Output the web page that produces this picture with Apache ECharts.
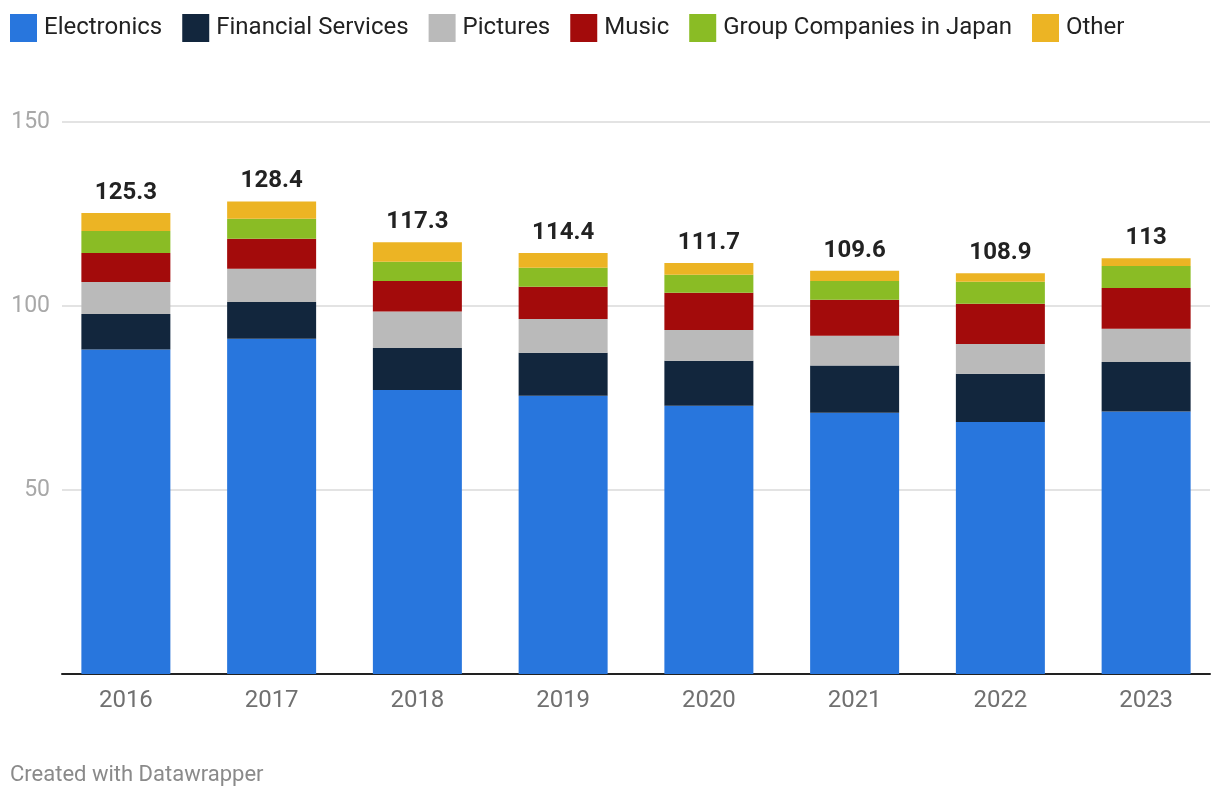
<!DOCTYPE html>
<html>
<head>
<meta charset="utf-8">
<style>
  html, body { margin: 0; padding: 0; background: #ffffff; }
  #chart { width: 1220px; height: 798px; }
</style>
<script src="https://cdn.jsdelivr.net/npm/echarts@6/dist/echarts.min.js"></script>
</head>
<body>
<div id="chart"></div>
<script>
const years = ['2016', '2017', '2018', '2019', '2020', '2021', '2022', '2023'];
const electronics = [88.2, 91.1, 77.2, 75.6, 72.9, 71.0, 68.5, 71.3];
const financial   = [9.6, 10.0, 11.4, 11.7, 12.2, 12.8, 13.1, 13.5];
const pictures    = [8.7, 9.0, 9.9, 9.2, 8.4, 8.1, 8.1, 9.0];
const music       = [7.9, 8.2, 8.3, 8.7, 10.1, 9.8, 10.9, 11.1];
const groupJapan  = [6.0, 5.4, 5.2, 5.2, 4.9, 5.1, 6.0, 6.0];
const other       = [4.9, 4.7, 5.3, 4.0, 3.2, 2.8, 2.3, 2.1];
const yTicks = [0, 50, 100, 150];

const seriesDefs = [
  { name: 'Electronics', data: electronics, color: '#2876dd' },
  { name: 'Financial Services', data: financial, color: '#12263d' },
  { name: 'Pictures', data: pictures, color: '#bababa' },
  { name: 'Music', data: music, color: '#a30b0b' },
  { name: 'Group Companies in Japan', data: groupJapan, color: '#8abc25' },
  { name: 'Other', data: other, color: '#ecb424' }
];

const totals = years.map((_, i) =>
  parseFloat(seriesDefs.reduce((s, d) => s + d.data[i], 0).toFixed(1)));

const font = 'Roboto, "Noto Sans", sans-serif';
const chart = echarts.init(document.getElementById('chart'), null, { renderer: 'canvas' });

const series = seriesDefs.map((d, idx) => {
  const s = {
    name: d.name,
    type: 'bar',
    stack: 'total',
    xAxisIndex: 0,
    yAxisIndex: 0,
    barWidth: 89,
    data: d.data,
    itemStyle: { color: d.color },
    emphasis: { disabled: true }
  };
  if (idx === seriesDefs.length - 1) {
    s.label = {
      show: true,
      position: 'top',
      distance: 8,
      fontFamily: font,
      fontSize: 24,
      fontWeight: 'bold',
      color: '#222222',
      formatter: p => String(totals[p.dataIndex])
    };
  }
  return s;
});

chart.setOption({
  animation: false,
  color: seriesDefs.map(d => d.color),
  textStyle: { fontFamily: font },
  title: {
    text: 'Created with Datawrapper',
    left: 10,
    top: 764,
    padding: 0,
    textStyle: { fontFamily: font, fontSize: 22, fontWeight: 'normal', color: '#8a8a8a' }
  },
  legend: {
    left: 10,
    top: 14,
    padding: 0,
    itemWidth: 27,
    itemHeight: 28,
    itemGap: 20,
    icon: 'rect',
    selectedMode: false,
    textStyle: { fontFamily: font, fontSize: 24, color: '#222222', padding: [0, 0, 0, 2] },
    data: seriesDefs.map(d => d.name)
  },
  grid: [
    { left: 53, right: 1, top: 122, bottom: 124 },
    { left: 62, right: 10, top: 122, bottom: 124 }
  ],
  xAxis: [
    {
      type: 'category',
      gridIndex: 0,
      data: years,
      axisLine: { show: false },
      axisTick: { show: false },
      axisLabel: { fontFamily: font, fontSize: 24, color: '#707070', margin: 15 }
    },
    {
      type: 'category',
      gridIndex: 1,
      data: years,
      axisLine: { show: true, lineStyle: { color: '#222222', width: 2 } },
      axisTick: { show: false },
      axisLabel: { show: false }
    }
  ],
  yAxis: [
    {
      type: 'value',
      gridIndex: 0,
      min: yTicks[0],
      max: yTicks[yTicks.length - 1],
      interval: 50,
      show: false
    },
    {
      type: 'value',
      gridIndex: 1,
      min: yTicks[0],
      max: yTicks[yTicks.length - 1],
      interval: 50,
      axisLine: { show: false },
      axisTick: { show: false },
      splitLine: { lineStyle: { color: '#e3e3e3', width: 2 } },
      axisLabel: {
        fontFamily: font, fontSize: 23, color: '#a8a8a8', margin: 12,
        formatter: v => (v === 0 ? '' : String(v))
      }
    }
  ],
  series: series
});
</script>
</body>
</html>
